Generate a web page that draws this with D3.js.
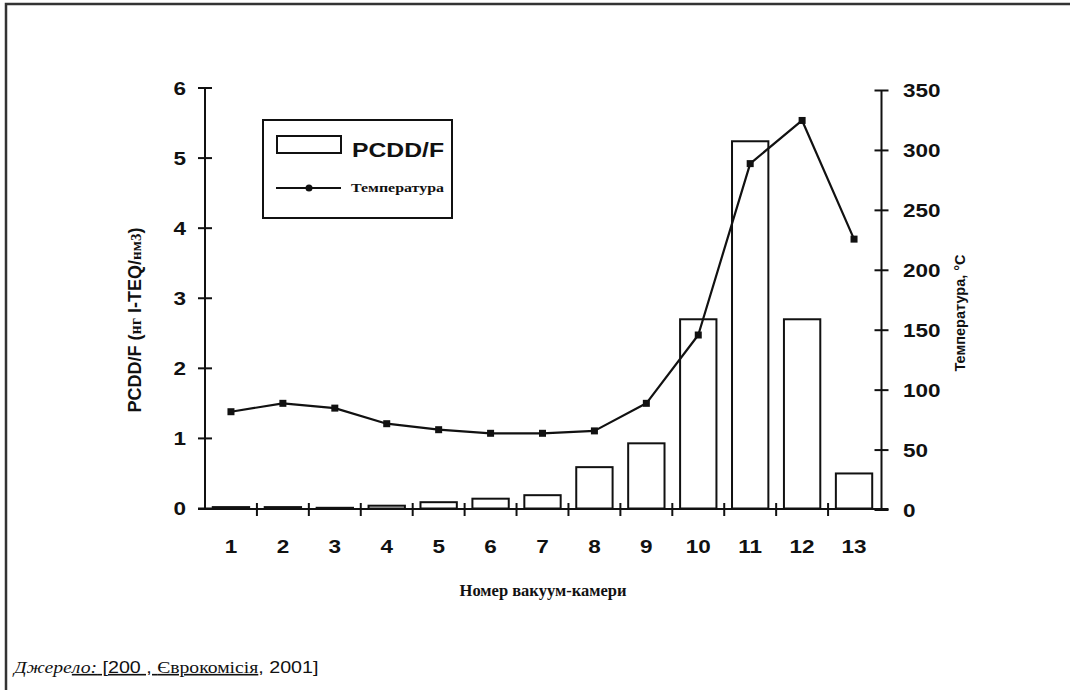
<!DOCTYPE html>
<html>
<head>
<meta charset="utf-8">
<script src="https://cdn.jsdelivr.net/npm/d3@7"></script>
<style>
  body { margin: 0; background: #fff; }
  svg { display: block; }
  .num { font-family: "Liberation Sans", Arial, sans-serif; font-weight: bold; font-size: 18px; fill: #111; }
</style>
</head>
<body>
<div id="container"></div>
<script>
// chamber numbers, PCDD/F (ng I-TEQ/Nm3) and temperature (°C)
const chambers = [1, 2, 3, 4, 5, 6, 7, 8, 9, 10, 11, 12, 13];
const pcdd = [0.02, 0.02, 0.01, 0.04, 0.09, 0.14, 0.19, 0.59, 0.93, 2.7, 5.24, 2.7, 0.5];
const temperature = [82, 89, 85, 72, 67, 64, 64, 66, 89, 146, 289, 325, 226];
const leftTicks = [0, 1, 2, 3, 4, 5, 6];
const rightTicks = [0, 50, 100, 150, 200, 250, 300, 350];

const W = 1070, H = 690;
const svg = d3.select('#container').append('svg')
  .attr('width', W).attr('height', H);

// frame (top + left edge only)
svg.append('path')
  .attr('d', `M6,${H} L6,4 L${W},4`)
  .attr('fill', 'none').attr('stroke', '#333').attr('stroke-width', 2.5);

// scales
const x = d3.scaleBand().domain(chambers).range([205, 880]);
const yL = d3.scaleLinear().domain([0, 6]).range([508.5, 88]);
const yR = d3.scaleLinear().domain([0, 350]).range([510, 90.5]);
const leftX = 205, rightX = 881.5, baseY = 509;

// bars
const barW = x.bandwidth() * 0.7;
svg.append('g').selectAll('rect')
  .data(chambers)
  .join('rect')
  .attr('x', (d) => x(d) + (x.bandwidth() - barW) / 2)
  .attr('y', (d, i) => yL(pcdd[i]))
  .attr('width', barW)
  .attr('height', (d, i) => yL(0) - yL(pcdd[i]))
  .attr('fill', '#fff').attr('stroke', '#111').attr('stroke-width', 2);

// axes lines
const ax = svg.append('g').attr('stroke', '#111').attr('stroke-width', 2).attr('fill', 'none');
ax.append('line').attr('x1', leftX).attr('x2', leftX).attr('y1', yL(6)).attr('y2', baseY);
ax.append('line').attr('x1', rightX).attr('x2', rightX).attr('y1', yR(350)).attr('y2', baseY + 1);
ax.append('line').attr('x1', leftX - 7).attr('x2', rightX + 7).attr('y1', baseY).attr('y2', baseY);

// left ticks
ax.selectAll('.lt').data(leftTicks).join('line')
  .attr('x1', leftX - 7).attr('x2', leftX + 7)
  .attr('y1', (d) => yL(d)).attr('y2', (d) => yL(d));
// right ticks
ax.selectAll('.rt').data(rightTicks).join('line')
  .attr('x1', rightX - 7).attr('x2', rightX + 7)
  .attr('y1', (d) => yR(d)).attr('y2', (d) => yR(d));
// bottom ticks at band boundaries
const bounds = chambers.map((c) => x(c)).concat([x.range()[1]]);
ax.selectAll('.bt').data(bounds.slice(1, -1)).join('line')
  .attr('x1', (d) => d).attr('x2', (d) => d)
  .attr('y1', baseY - 6).attr('y2', baseY + 7);

// tick labels (horizontally stretched like the original scan)
const sx = 1.25;
svg.append('g').selectAll('text').data(leftTicks).join('text')
  .attr('class', 'num').attr('text-anchor', 'end')
  .attr('transform', (d) => `translate(186,${yL(d) + 6.5}) scale(${sx},1)`)
  .text((d) => d);
svg.append('g').selectAll('text').data(rightTicks).join('text')
  .attr('class', 'num').attr('text-anchor', 'start')
  .attr('transform', (d) => `translate(903,${yR(d) + 6.5}) scale(${sx},1)`)
  .text((d) => d);
svg.append('g').selectAll('text').data(chambers).join('text')
  .attr('class', 'num').attr('text-anchor', 'middle')
  .attr('transform', (d) => `translate(${x(d) + x.bandwidth() / 2},${553}) scale(${sx},1)`)
  .text((d) => d);

// temperature line
const line = d3.line()
  .x((d, i) => x(chambers[i]) + x.bandwidth() / 2)
  .y((d) => yR(d));
svg.append('path')
  .datum(temperature)
  .attr('d', line)
  .attr('fill', 'none').attr('stroke', '#111').attr('stroke-width', 2.2)
  .attr('stroke-linejoin', 'round');
svg.append('g').selectAll('rect')
  .data(temperature)
  .join('rect')
  .attr('x', (d, i) => x(chambers[i]) + x.bandwidth() / 2 - 3.5)
  .attr('y', (d) => yR(d) - 3.5)
  .attr('width', 7).attr('height', 7)
  .attr('fill', '#111');

// legend
const lg = svg.append('g');
lg.append('rect').attr('x', 263).attr('y', 120).attr('width', 189).attr('height', 98)
  .attr('fill', '#fff').attr('stroke', '#111').attr('stroke-width', 2);
lg.append('rect').attr('x', 277).attr('y', 136).attr('width', 64).attr('height', 17)
  .attr('fill', '#fff').attr('stroke', '#111').attr('stroke-width', 2);
lg.append('text').attr('x', 352).attr('y', 157)
  .attr('font-family', '"Liberation Sans", Arial, sans-serif').attr('font-weight', 'bold')
  .attr('font-size', 21).attr('textLength', 92).attr('lengthAdjust', 'spacingAndGlyphs')
  .attr('fill', '#111').text('PCDD/F');
lg.append('line').attr('x1', 276).attr('x2', 341).attr('y1', 188).attr('y2', 188)
  .attr('stroke', '#111').attr('stroke-width', 2);
lg.append('circle').attr('cx', 309).attr('cy', 188).attr('r', 3.5).attr('fill', '#111');
lg.append('text').attr('x', 351).attr('y', 192)
  .attr('font-family', '"Liberation Serif", "Times New Roman", serif').attr('font-weight', 'bold')
  .attr('font-size', 13).attr('textLength', 93).attr('lengthAdjust', 'spacingAndGlyphs')
  .attr('fill', '#111').text('Температура');

// axis titles
const lt = svg.append('text')
  .attr('transform', 'translate(141,320) rotate(-90)')
  .attr('text-anchor', 'middle').attr('fill', '#111')
  .attr('font-family', '"Liberation Sans", Arial, sans-serif').attr('font-weight', 'bold')
  .attr('font-size', 18);
lt.append('tspan').text('PCDD/F (');
lt.append('tspan').attr('font-family', '"Liberation Serif", serif').attr('font-size', 16).text('нг');
lt.append('tspan').text(' I-TEQ/');
lt.append('tspan').attr('font-family', '"Liberation Serif", serif').attr('font-size', 15).text('нм3');
lt.append('tspan').text(')');

svg.append('text')
  .attr('transform', 'translate(965,313) rotate(-90)')
  .attr('text-anchor', 'middle').attr('fill', '#111')
  .attr('font-family', '"Liberation Sans", Arial, sans-serif').attr('font-weight', 'bold')
  .attr('font-size', 14.5).text('Температура, °С');

svg.append('text')
  .attr('x', 543).attr('y', 596).attr('text-anchor', 'middle').attr('fill', '#111')
  .attr('font-family', '"Liberation Serif", "Times New Roman", serif').attr('font-weight', 'bold')
  .attr('font-size', 16.5).text('Номер вакуум-камери');

// source line
const src = svg.append('text').attr('transform', 'translate(14,673) scale(1.23,1)')
  .attr('font-size', 16).attr('fill', '#111');
src.append('tspan').attr('font-family', '"Liberation Serif", serif').attr('font-style', 'italic').text('Джере');
src.append('tspan').attr('font-family', '"Liberation Serif", serif').attr('font-style', 'italic')
  .attr('text-decoration', 'underline').text('ло:');
src.append('tspan').attr('font-family', '"Liberation Sans", Arial, sans-serif')
  .attr('text-decoration', 'underline').text(' [200 , ');
src.append('tspan').attr('font-family', '"Liberation Serif", serif')
  .attr('text-decoration', 'underline').text('Єврокомісія');
src.append('tspan').attr('font-family', '"Liberation Sans", Arial, sans-serif').text(', 2001]');
</script>
</body>
</html>
